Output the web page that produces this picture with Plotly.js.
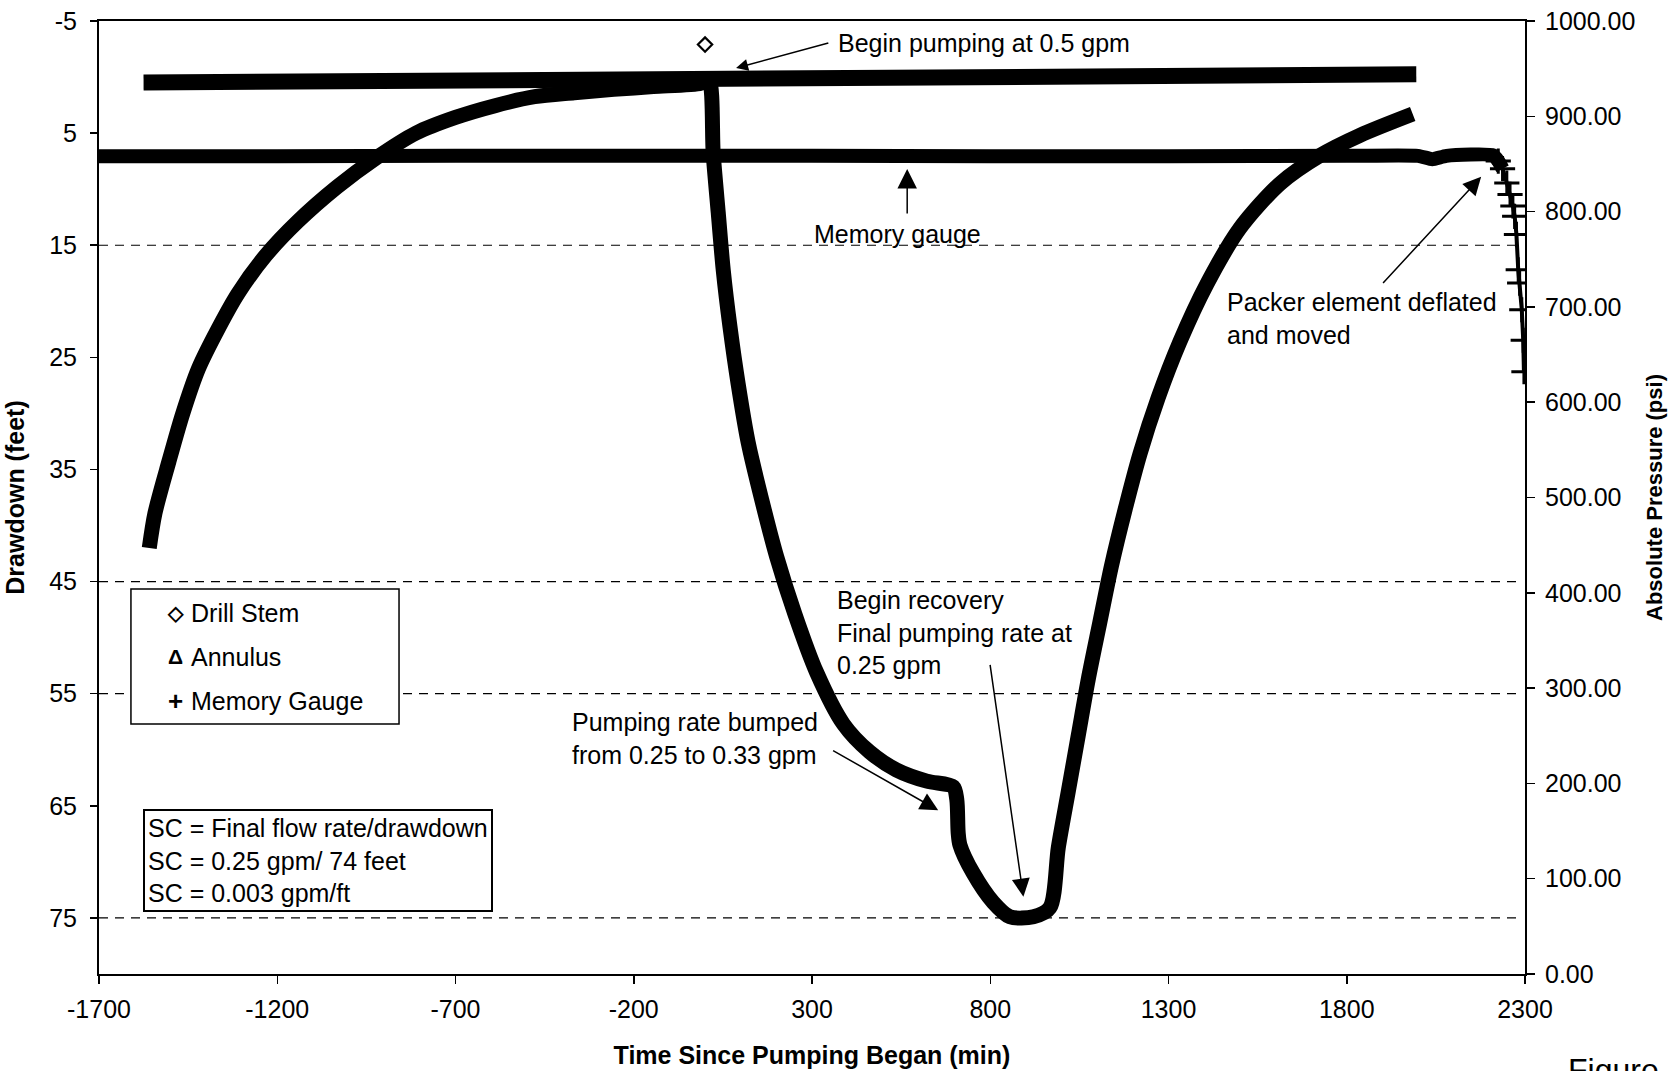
<!DOCTYPE html>
<html>
<head>
<meta charset="utf-8">
<script src="https://cdn.plot.ly/plotly-3.0.1.min.js"></script>
<style>
  html, body { margin: 0; padding: 0; background: #ffffff; }
  #chart { width: 1672px; height: 1071px; }
</style>
</head>
<body>
<div id="chart"></div>
<script>
// ---------------- DATA ----------------
// Drill Stem: drawdown in feet (left axis) vs time since pumping began (min)
const drillTime = [-1559, -1543, -1504, -1465, -1421, -1365, -1310, -1232, -1143, -1032,
  -922, -811, -700, -589, -478, -367, -256, -145, -12, 10,
  23, 37, 51, 70, 93, 121, 159, 201, 252, 313,
  388, 462, 537, 622, 696, 706, 710, 715, 752, 808,
  855, 921, 967, 991, 1019, 1047, 1075, 1107, 1140, 1178,
  1220, 1271, 1332, 1407, 1500, 1613, 1725, 1837, 1985];
const drillDrawdown = [42, 38.9, 34.3, 30.0, 26.0, 22.4, 19.3, 15.9, 12.9, 9.8,
  7.2, 5.0, 3.6, 2.55, 1.75, 1.4, 1.1, 0.85, 0.55, 0.2,
  6.9, 12.1, 17.2, 22.3, 27.4, 32.6, 37.7, 42.8, 47.9, 53.1,
  57.7, 60.2, 61.8, 62.8, 63.3, 64.4, 67.4, 68.5, 71.0, 73.6,
  74.9, 74.9, 74.1, 68.7, 63.7, 58.7, 53.7, 48.7, 43.6, 38.6,
  33.6, 28.6, 23.6, 18.5, 13.5, 9.5, 7.0, 5.2, 3.3];
// isolated Drill Stem reading at the start of pumping
const drillOutlierTime = [0];
const drillOutlierDrawdown = [-2.9];

// Annulus: absolute pressure (psi, right axis)
const annulusTime = [-1575, -1200, -800, -400, 0, 400, 800, 1200, 1600, 1995];
const annulusPressure = [935.5, 936.5, 937.5, 938.5, 940, 940.5, 941, 941.5, 943, 944];

// Memory Gauge: absolute pressure (psi, right axis)
const memoryTime = [-1700, -1200, -700, -200, 300, 800, 1300, 1800, 2000, 2040,
  2080, 2211, 2225, 2237, 2249, 2258, 2266, 2271, 2276, 2281,
  2285, 2291, 2295, 2297];
const memoryPressure = [858, 858, 858.5, 858.5, 858.5, 858, 858, 858.5, 858.5, 855,
  858.5, 859, 853, 845, 830, 818, 806, 795, 776, 739,
  725, 697, 665, 632];

// axis ticks
const xTicks = [-1700, -1200, -700, -200, 300, 800, 1300, 1800, 2300];
const yTicks = [-5, 5, 15, 25, 35, 45, 55, 65, 75];
const gridLevels = [15, 45, 55, 75];

// ---------------- CHART ----------------
const FONT = '"Liberation Sans", Arial, Helvetica, sans-serif';
const BLACK = '#000000';

const memFlatT = [], memFlatP = [], memDropT = [], memDropP = [];
memoryTime.forEach((t, i) => {
  if (t <= 2237) { memFlatT.push(t); memFlatP.push(memoryPressure[i]); }
  if (t >= 2225) { memDropT.push(t); memDropP.push(memoryPressure[i]); }
});

const traces = [
  { name: 'Annulus', x: annulusTime, y: annulusPressure, yaxis: 'y2', mode: 'lines',
    line: { color: BLACK, width: 16 }, showlegend: false },
  { name: 'Memory Gauge', x: memFlatT, y: memFlatP, yaxis: 'y2', mode: 'lines',
    line: { color: BLACK, width: 14, shape: 'spline', smoothing: 0.6 }, showlegend: false },
  { name: 'Memory Gauge', x: memDropT, y: memDropP, yaxis: 'y2', mode: 'lines+markers',
    line: { color: BLACK, width: 4 },
    marker: { symbol: 'cross-thin', size: 18, color: BLACK, line: { color: BLACK, width: 3 } },
    showlegend: false },
  { name: 'Drill Stem', x: drillTime, y: drillDrawdown, yaxis: 'y', mode: 'lines',
    line: { color: BLACK, width: 15, shape: 'spline', smoothing: 0.8 }, showlegend: false },
  { name: 'Drill Stem', x: drillOutlierTime, y: drillOutlierDrawdown, yaxis: 'y', mode: 'markers',
    marker: { symbol: 'diamond-open', size: 11, color: BLACK, line: { color: BLACK, width: 2.2 } },
    showlegend: false }
];

const shapes = gridLevels.map(v => ({
  type: 'line', xref: 'paper', x0: 0, x1: 0.995, yref: 'y', y0: v, y1: v,
  line: { color: BLACK, width: 1.2, dash: '9px,7px' }, layer: 'below'
}));
// legend frame
shapes.push({ type: 'rect', xref: 'paper', yref: 'paper', x0: 0.0224, x1: 0.2104, y0: 0.2623, y1: 0.404,
  fillcolor: '#ffffff', line: { color: BLACK, width: 1.5 }, layer: 'above' });

function arrow(hx, hy, tx, ty, size) {
  return { x: hx, y: hy, xref: 'x', yref: 'y', ax: tx, ay: ty, axref: 'x', ayref: 'y',
    text: '', showarrow: true, arrowhead: 2, arrowsize: size, arrowwidth: 1.5, arrowcolor: BLACK,
    standoff: 0, startstandoff: 0 };
}
function label(txt, x, y, xanchor) {
  return { x: x, y: y, xref: 'x', yref: 'y', text: txt, showarrow: false,
    xanchor: xanchor || 'left', yanchor: 'middle', align: 'left',
    borderwidth: 0, borderpad: 0, font: { size: 25, color: BLACK } };
}

const annotations = [
  arrow(87, -0.8, 350, -3.07, 1.6),
  arrow(567, 8.2, 567, 12.3, 2.6),
  arrow(893, 73.1, 799, 52.3, 2.4),
  arrow(654, 65.4, 355, 60.0, 2.4),
  arrow(2177, 8.9, 1898, 18.5, 2.4),
  label('Begin pumping at 0.5 gpm', 372, -3.05),
  label('Memory gauge', 540, 14.0, 'center'),
  label('Begin recovery<br>Final pumping rate at<br>0.25 gpm', 369, 49.5),
  label('Pumping rate bumped<br>from 0.25 to 0.33 gpm', -373, 59.0),
  label('Packer element deflated<br>and moved', 1463, 21.5),
  // legend entries
  { xref: 'paper', yref: 'paper', x: 0.0533, y: 0.3791, text: '◇', showarrow: false,
    xanchor: 'center', yanchor: 'middle', borderpad: 0, font: { size: 20, weight: 'bold', color: BLACK } },
  { xref: 'paper', yref: 'paper', x: 0.0533, y: 0.3329, text: 'Δ', showarrow: false,
    xanchor: 'center', yanchor: 'middle', borderpad: 0, font: { size: 21, weight: 'bold', color: BLACK } },
  { xref: 'paper', yref: 'paper', x: 0.0533, y: 0.2868, text: '+', showarrow: false,
    xanchor: 'center', yanchor: 'middle', borderpad: 0, font: { size: 26, weight: 'bold', color: BLACK } },
  { xref: 'paper', yref: 'paper', x: 0.0641, y: 0.3791, text: 'Drill Stem', showarrow: false,
    xanchor: 'left', yanchor: 'middle', borderpad: 0, font: { size: 25, color: BLACK } },
  { xref: 'paper', yref: 'paper', x: 0.0641, y: 0.3329, text: 'Annulus', showarrow: false,
    xanchor: 'left', yanchor: 'middle', borderpad: 0, font: { size: 25, color: BLACK } },
  { xref: 'paper', yref: 'paper', x: 0.0641, y: 0.2868, text: 'Memory Gauge', showarrow: false,
    xanchor: 'left', yanchor: 'middle', borderpad: 0, font: { size: 25, color: BLACK } },
  // specific capacity box
  { xref: 'paper', yref: 'paper', x: 0.0308, y: 0.1731, xanchor: 'left', yanchor: 'top',
    text: 'SC = Final flow rate/drawdown<br>SC = 0.25 gpm/ 74 feet<br>SC = 0.003 gpm/ft',
    showarrow: false, align: 'left', bgcolor: '#ffffff', bordercolor: BLACK, borderwidth: 2,
    borderpad: 3, font: { size: 25, color: BLACK } },
  // caption at bottom right (cut off by the page edge, as in the reference)
  { xref: 'paper', yref: 'paper', x: 1.0295, y: -0.0808, xanchor: 'left', yanchor: 'top',
    text: 'Figure', showarrow: false, borderpad: 0, font: { size: 32, color: BLACK } }
];

const layout = {
  width: 1672, height: 1071,
  margin: { l: 99, r: 147, t: 21, b: 97, pad: 0 },
  paper_bgcolor: '#ffffff', plot_bgcolor: '#ffffff',
  font: { family: FONT, size: 25, color: BLACK },
  showlegend: false,
  xaxis: {
    range: [-1700, 2300], tickmode: 'array', tickvals: xTicks, ticktext: xTicks.map(String),
    ticks: 'outside', ticklen: 8, tickwidth: 1.5, tickcolor: BLACK,
    showline: true, linewidth: 2, linecolor: BLACK, mirror: true,
    showgrid: false, zeroline: false, ticklabelstandoff: 4,
    tickfont: { size: 25, color: BLACK },
    title: { text: 'Time Since Pumping Began (min)', font: { size: 25, weight: 'bold', color: BLACK }, standoff: 24 }
  },
  yaxis: {
    range: [80, -5], tickmode: 'array', tickvals: yTicks, ticktext: yTicks.map(String),
    ticks: 'outside', ticklen: 7, tickwidth: 1.5, tickcolor: BLACK,
    showline: true, linewidth: 2, linecolor: BLACK,
    showgrid: false, zeroline: false, ticklabelstandoff: 8,
    tickfont: { size: 25, color: BLACK },
    title: { text: 'Drawdown (feet)', font: { size: 25, weight: 'bold', color: BLACK }, standoff: 17 }
  },
  yaxis2: {
    overlaying: 'y', side: 'right', anchor: 'x',
    range: [0, 1000], tick0: 0, dtick: 100, tickformat: '.2f',
    ticks: 'outside', ticklen: 8, tickwidth: 1.5, tickcolor: BLACK,
    showline: true, linewidth: 2, linecolor: BLACK,
    showgrid: false, zeroline: false, ticklabelstandoff: 5,
    tickfont: { size: 25, color: BLACK },
    title: { text: 'Absolute Pressure (psi)', font: { size: 22, weight: 'bold', color: BLACK }, standoff: 12 }
  },
  yaxis3: {
    overlaying: 'y', side: 'right', anchor: 'x',
    range: [0, 1000], tick0: 0, dtick: 100,
    ticks: 'inside', ticklen: 8, tickwidth: 1.5, tickcolor: BLACK,
    showticklabels: false, showline: false, showgrid: false, zeroline: false
  },
  shapes: shapes,
  annotations: annotations
};

Plotly.newPlot('chart', traces, layout, { displayModeBar: false, staticPlot: true }).then(() => {
  document.querySelectorAll('.scatterlayer path.js-line').forEach(p => {
    p.style.strokeLinejoin = 'round';
    p.style.strokeLinecap = 'butt';
  });
});
</script>
</body>
</html>
